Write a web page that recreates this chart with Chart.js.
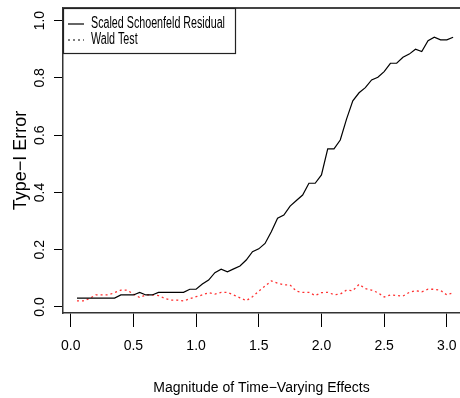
<!DOCTYPE html>
<html>
<head>
<meta charset="utf-8">
<script src="https://cdn.jsdelivr.net/npm/chart.js@4.4.1/dist/chart.umd.min.js"></script>
<style>
    html, body { margin: 0; padding: 0; background: #fff; }
    #wrap { width: 460px; height: 398px; position: relative; }
</style>
</head>
<body>
<div id="wrap"><canvas id="typeOneErrorChart"></canvas></div>
<script>
const magnitudes = [
    0.05, 0.10, 0.15, 0.20, 0.25, 0.30, 0.35, 0.40, 0.45, 0.50,
    0.55, 0.60, 0.65, 0.70, 0.75, 0.80, 0.85, 0.90, 0.95, 1.00,
    1.05, 1.10, 1.15, 1.20, 1.25, 1.30, 1.35, 1.40, 1.45, 1.50,
    1.55, 1.60, 1.65, 1.70, 1.75, 1.80, 1.85, 1.90, 1.95, 2.00,
    2.05, 2.10, 2.15, 2.20, 2.25, 2.30, 2.35, 2.40, 2.45, 2.50,
    2.55, 2.60, 2.65, 2.70, 2.75, 2.80, 2.85, 2.90, 2.95, 3.00,
    3.05,
];

const schoenfeldError = [
    0.031, 0.031, 0.031, 0.031, 0.031, 0.031, 0.031, 0.042, 0.042, 0.042,
    0.051, 0.042, 0.042, 0.051, 0.051, 0.051, 0.051, 0.051, 0.062, 0.062,
    0.080, 0.094, 0.120, 0.132, 0.123, 0.133, 0.143, 0.164, 0.193, 0.203,
    0.222, 0.263, 0.310, 0.321, 0.352, 0.372, 0.391, 0.432, 0.432, 0.461,
    0.552, 0.552, 0.583, 0.656, 0.720, 0.748, 0.766, 0.793, 0.802, 0.822,
    0.851, 0.851, 0.872, 0.883, 0.900, 0.892, 0.930, 0.942, 0.933, 0.933,
    0.942,
];

const waldError = [
    0.021, 0.021, 0.030, 0.042, 0.042, 0.042, 0.050, 0.059, 0.059, 0.045,
    0.033, 0.042, 0.042, 0.040, 0.030, 0.024, 0.024, 0.021, 0.029, 0.036,
    0.042, 0.050, 0.045, 0.051, 0.051, 0.042, 0.032, 0.022, 0.036, 0.055,
    0.073, 0.091, 0.083, 0.077, 0.077, 0.055, 0.051, 0.051, 0.040, 0.050,
    0.051, 0.043, 0.045, 0.059, 0.057, 0.079, 0.064, 0.059, 0.050, 0.035,
    0.042, 0.040, 0.038, 0.051, 0.057, 0.053, 0.062, 0.062, 0.058, 0.042,
    0.050,
];

const seriesNames = ['Scaled Schoenfeld Residual', 'Wald Test'];
const xTicks = [0, 0.5, 1, 1.5, 2, 2.5, 3];
const yTicks = [0, 0.2, 0.4, 0.6, 0.8, 1];

const plainFont = "'Liberation Sans', Arial, sans-serif";

function toPoints(values) {
    return magnitudes.map((x, i) => ({ x, y: values[i] }));
}

// top edge of the plot box (left/bottom come from the axis borders)
const plotBoxPlugin = {
    id: 'plotBox',
    afterDraw(chart) {
        const { ctx, chartArea } = chart;
        ctx.save();
        ctx.strokeStyle = '#444';
        ctx.lineWidth = 2;
        ctx.beginPath();
        ctx.moveTo(chartArea.left, chartArea.top);
        ctx.lineTo(chartArea.right, chartArea.top);
        ctx.stroke();
        ctx.restore();
    },
};

// R style legend in the top left corner, both keys drawn in black
const boxedLegendPlugin = {
    id: 'boxedLegend',
    afterDraw(chart) {
        const { ctx, chartArea } = chart;
        const left = chartArea.left;
        const top = chartArea.top;
        const rows = [top + 16, top + 32];
        ctx.save();
        ctx.fillStyle = '#fff';
        ctx.fillRect(left, top, 172, 45);
        ctx.strokeStyle = '#222';
        ctx.lineWidth = 1.2;
        ctx.strokeRect(left + 0.5, top + 0.5, 172, 45);

        ctx.font = '16px ' + plainFont;
        // the source figure uses a condensed face, squeeze the text to match
        const squeeze = 134 / ctx.measureText(seriesNames[0]).width;

        chart.data.datasets.forEach((ds, i) => {
            ctx.strokeStyle = '#000';
            ctx.lineWidth = 1.2;
            ctx.setLineDash(ds.borderDash || []);
            ctx.beginPath();
            ctx.moveTo(left + 5, rows[i]);
            ctx.lineTo(left + 21, rows[i]);
            ctx.stroke();
            ctx.setLineDash([]);

            ctx.save();
            ctx.translate(left + 28, rows[i]);
            ctx.scale(squeeze, 1);
            ctx.fillStyle = '#000';
            ctx.textBaseline = 'middle';
            ctx.fillText(ds.label, 0, 0);
            ctx.restore();
        });
        ctx.restore();
    },
};

const canvas = document.getElementById('typeOneErrorChart');

new Chart(canvas, {
    type: 'line',
    data: {
        datasets: [
            {
                label: seriesNames[0],
                data: toPoints(schoenfeldError),
                borderColor: '#000',
                borderWidth: 1.2,
                pointRadius: 0,
                tension: 0,
                fill: false,
            },
            {
                label: seriesNames[1],
                data: toPoints(waldError),
                borderColor: '#ff3030',
                borderWidth: 1.3,
                borderDash: [2, 3],
                pointRadius: 0,
                tension: 0,
                fill: false,
            },
        ],
    },
    options: {
        responsive: true,
        maintainAspectRatio: false,
        animation: false,
        layout: { padding: { top: 8, left: 0, right: 0, bottom: 0 } },
        plugins: {
            legend: { display: false },
            tooltip: { enabled: false },
        },
        scales: {
            x: {
                type: 'linear',
                min: -0.0614,
                max: 3.105,
                afterFit(scale) {
                    scale.height = 85;
                    scale.paddingLeft = 0;
                    scale.paddingRight = 0;
                },
                afterBuildTicks(scale) { scale.ticks = xTicks.map(v => ({ value: v })); },
                ticks: {
                    color: '#000',
                    font: { family: plainFont, size: 14 },
                    padding: 11,
                    maxRotation: 0,
                    autoSkip: false,
                    callback: v => Number(v).toFixed(1),
                },
                grid: {
                    drawOnChartArea: false,
                    tickLength: 14,
                    tickColor: '#000',
                    lineWidth: 1,
                },
                border: { display: true, color: '#333', width: 1.5 },
                title: {
                    display: true,
                    text: 'Magnitude of Time\u2212Varying Effects',
                    color: '#000',
                    font: { family: plainFont, size: 14 },
                    padding: { top: 0, bottom: 1 },
                },
            },
            y: {
                min: -0.021,
                max: 1.044,
                afterFit(scale) {
                    scale.width = 63;
                    scale.paddingTop = 0;
                    scale.paddingBottom = 0;
                },
                afterBuildTicks(scale) { scale.ticks = yTicks.map(v => ({ value: v })); },
                ticks: {
                    color: '#000',
                    font: { family: plainFont, size: 14 },
                    minRotation: 90,
                    maxRotation: 90,
                    crossAlign: 'center',
                    padding: 4,
                    callback: v => Number(v).toFixed(1),
                },
                grid: {
                    drawOnChartArea: false,
                    tickLength: 9,
                    tickColor: '#000',
                    lineWidth: 1,
                },
                border: { display: true, color: '#333', width: 1.5 },
                title: {
                    display: true,
                    text: 'Type\u2212I Error',
                    color: '#000',
                    font: { family: plainFont, size: 18 },
                    padding: { top: 10, bottom: 0 },
                },
            },
        },
    },
    plugins: [plotBoxPlugin, boxedLegendPlugin],
});
</script>
</body>
</html>
